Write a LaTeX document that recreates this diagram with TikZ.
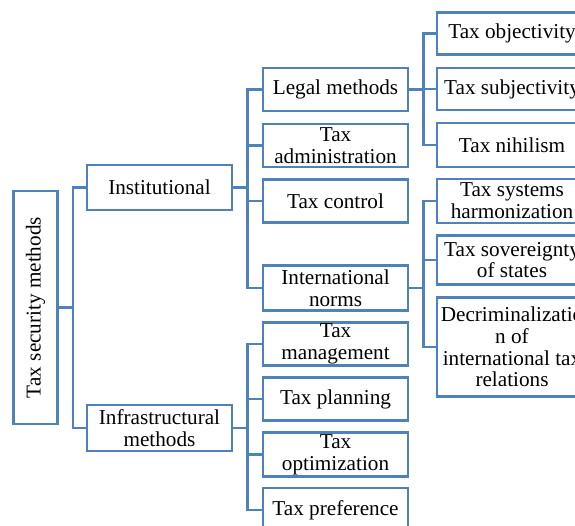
\documentclass[tikz,border=0pt]{standalone}
\usepackage{fontspec}
\setmainfont{Liberation Serif}
\usetikzlibrary{calc}
\definecolor{boxblue}{RGB}{79,129,189}

\begin{document}
\begin{tikzpicture}[x=1pt,y=-1pt,
                      box/.style={draw=boxblue,line width=2.9pt,fill=white,
                        align=center,inner sep=0pt,minimum width=145,
                        minimum height=43,font=\fontsize{21.2}{21.8}\selectfont},
                      leaf/.style={box,minimum width=150},
                      link/.style={draw=boxblue,line width=2.9pt}]

   \useasboundingbox (0,0) rectangle (575,526);
   \clip (0,0) rectangle (575,526);

   \node[box,minimum width=44,minimum height=233] (root) at (35.5,307.5) {\rotatebox{90}{Tax security methods}};

   \node[box,minimum height=45] (inst) at (159.5,187.5) {Institutional};
   \node[box,minimum height=46] (infra) at (159.5,428) {Infrastructural\\methods};

   \node[box] (legal) at (335.5,89.5) {Legal methods};
   \node[box] (admin) at (335.5,145.5) {Tax\\administration};
   \node[box] (control) at (335.5,201) {Tax control};
   \node[box,minimum height=45] (intl) at (335.5,288) {International\\norms};

   \node[box] (manag) at (335.5,344) {Tax\\management};
   \node[box] (plan) at (335.5,399) {Tax planning};
   \node[box,minimum height=44] (optim) at (335.5,454.5) {Tax\\optimization};
   \node[box,minimum height=44] (pref) at (335.5,510) {Tax preference};

   \node[leaf,minimum height=42] (obj) at (512,33.5) {Tax objectivity};
   \node[leaf,minimum height=42] (subj) at (512,89) {Tax subjectivity};
   \node[leaf,minimum height=44] (nihil) at (512,145) {Tax nihilism};
   \node[leaf,minimum height=44] (harm) at (512,201) {Tax systems\\harmonization};
   \node[leaf,minimum height=49] (sover) at (512,260) {Tax sovereignty\\of states};
   \node[leaf,minimum height=99] (decrim) at (512,347) {Decriminalizatio\\n of\\international tax\\relations};

   % parent -- trunk -- child
   \foreach \Parent/\Child in {root/inst,root/infra,
                               inst/legal,inst/admin,inst/control,inst/intl,
                               infra/manag,infra/plan,infra/optim,infra/pref,
                               legal/obj,legal/subj,legal/nihil,
                               intl/harm,intl/sover,intl/decrim} {
     \draw[link] (\Parent.east) -- ++(14,0) |- (\Child.west);
   }
\end{tikzpicture}
\end{document}
